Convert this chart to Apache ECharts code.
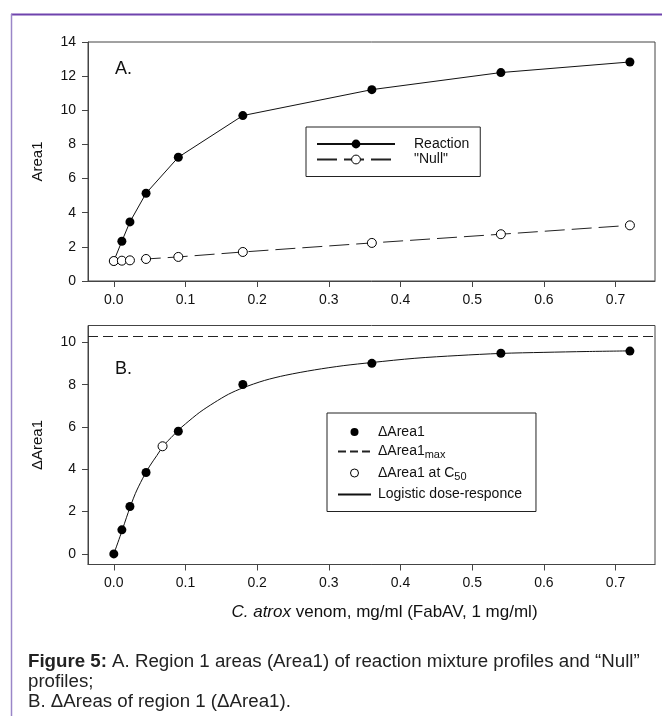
<!DOCTYPE html>
<html>
<head>
<meta charset="utf-8">
<script src="https://cdn.jsdelivr.net/npm/echarts@6/dist/echarts.min.js"></script>
<style>
html,body{margin:0;padding:0;background:#fff;}
#chart{width:662px;height:716px;}
</style>
</head>
<body>
<div id="chart"></div>
<script>
// ---- data ----
var conc = [0, 0.01125, 0.0225, 0.045, 0.09, 0.18, 0.36, 0.54, 0.72];
var reaction = [1.17, 2.33, 3.46, 5.14, 7.25, 9.69, 11.21, 12.21, 12.83];
var nullArea = [1.17, 1.19, 1.21, 1.29, 1.41, 1.70, 2.23, 2.74, 3.26];
var deltaArea = [0, 1.14, 2.24, 3.85, 5.80, 8.01, 9.01, 9.49, 9.59];
var c50X = [0.068];
var c50Y = [5.09];
var deltaMax = [10.28];
var fitX = [0, 0.01, 0.02, 0.03, 0.04, 0.05, 0.06, 0.07, 0.08, 0.09, 0.10, 0.12, 0.14, 0.16, 0.18, 0.21, 0.24, 0.28, 0.32, 0.36, 0.42, 0.48, 0.54, 0.60, 0.66, 0.72];
var fitY = [0, 0.95, 1.95, 2.85, 3.55, 4.15, 4.65, 5.15, 5.5, 5.85, 6.15, 6.7, 7.15, 7.55, 7.85, 8.2, 8.45, 8.7, 8.9, 9.05, 9.25, 9.38, 9.48, 9.53, 9.57, 9.6];
var xTicks = [0, 0.1, 0.2, 0.3, 0.4, 0.5, 0.6, 0.7];
var yTicksA = [0, 2, 4, 6, 8, 10, 12, 14];
var yTicksB = [0, 2, 4, 6, 8, 10];

function zip(a, b) { return a.map(function (v, i) { return [v, b[i]]; }); }

var FONT = 'Liberation Sans, Arial, sans-serif';
var AX = '#444';
var chart = echarts.init(document.getElementById('chart'), null, {renderer: 'canvas'});

function xAxisCfg(gi, name) {
  var c = {
    type: 'value', gridIndex: gi, min: -0.036, max: 0.755,
    axisLine: {show: true, onZero: false, lineStyle: {color: AX, width: 1}},
    axisTick: {show: true, length: 6, lineStyle: {color: AX}, customValues: xTicks},
    axisLabel: {show: true, customValues: xTicks, margin: 12, fontSize: 14, color: '#111', fontFamily: FONT,
      formatter: function (v) { return v.toFixed(1); }},
    splitLine: {show: false}
  };
  if (name) {
    c.name = name;
    c.nameLocation = 'middle';
    c.nameGap = 39;
    c.nameTextStyle = {fontSize: 17, color: '#111', fontFamily: FONT, padding: [0, 0, 0, 26],
      rich: {i: {fontStyle: 'italic', fontSize: 17, color: '#111', fontFamily: FONT}}};
  }
  return c;
}
function yAxisCfg(gi, min, max, ticks, name) {
  return {
    type: 'value', gridIndex: gi, min: min, max: max,
    axisLine: {show: true, onZero: false, lineStyle: {color: AX, width: 1}},
    axisTick: {show: true, length: 6, lineStyle: {color: AX}, customValues: ticks},
    axisLabel: {show: true, customValues: ticks, margin: 12, fontSize: 14, color: '#111', fontFamily: FONT},
    splitLine: {show: false},
    name: name, nameLocation: 'middle', nameGap: 43,
    nameTextStyle: {fontSize: 15, color: '#111', fontFamily: FONT}
  };
}

var hideSym = {color: 'rgba(0,0,0,0)', borderColor: 'rgba(0,0,0,0)', borderWidth: 0, opacity: 0};

var option = {
  animation: false,
  backgroundColor: '#fff',
  textStyle: {fontFamily: FONT},
  grid: [
    {left: 88, top: 42, width: 567, height: 239, show: true, borderColor: AX, borderWidth: 1, backgroundColor: 'transparent'},
    {left: 88, top: 325.5, width: 567, height: 239, show: true, borderColor: AX, borderWidth: 1, backgroundColor: 'transparent'}
  ],
  xAxis: [xAxisCfg(0), xAxisCfg(1, '{i|C. atrox} venom, mg/ml (FabAV, 1 mg/ml)')],
  yAxis: [yAxisCfg(0, 0, 14, yTicksA, 'Area1'), yAxisCfg(1, -0.5, 10.8, yTicksB, '\u0394Area1')],
  legend: [
    {
      orient: 'vertical', left: 306, top: 127, selectedMode: false,
      data: [
        {name: 'Reaction', itemStyle: {color: '#000', borderWidth: 0}},
        {name: '"Null"', itemStyle: {color: '#fff', borderColor: '#000', borderWidth: 1}}
      ],
      itemWidth: 78, itemHeight: 11, itemGap: 1.5,
      padding: [10, 11, 10, 10], borderColor: '#222', borderWidth: 1, backgroundColor: '#fff',
      textStyle: {fontSize: 14, color: '#111', fontFamily: FONT, padding: [0, 0, 0, 14]}
    },
    {
      orient: 'vertical', left: 327, top: 413, selectedMode: false,
      data: [
        {name: '\u0394Area1', itemStyle: {color: '#000', borderWidth: 0}},
        {name: '\u0394Area1max', itemStyle: hideSym},
        {name: '\u0394Area1 at C50', itemStyle: {color: '#fff', borderColor: '#000', borderWidth: 1}},
        {name: 'Logistic dose-responce', itemStyle: hideSym}
      ],
      itemWidth: 33, itemHeight: 8, itemGap: 5.5,
      padding: [12, 14, 10, 10], borderColor: '#222', borderWidth: 1, backgroundColor: '#fff',
      formatter: function (n) {
        if (n === '\u0394Area1max') return '\u0394Area1{s|max}';
        if (n === '\u0394Area1 at C50') return '\u0394Area1 at C{s|50}';
        return n;
      },
      textStyle: {fontSize: 14, color: '#111', fontFamily: FONT, padding: [0, 0, 0, 2],
        rich: {s: {fontSize: 11, color: '#111', fontFamily: FONT, padding: [7, 0, 0, 0]}}}
    }
  ],
  series: [
    {
      name: 'Reaction', type: 'line', xAxisIndex: 0, yAxisIndex: 0, data: zip(conc, reaction),
      symbol: 'circle', symbolSize: 9, showAllSymbol: true,
      itemStyle: {color: '#000'}, lineStyle: {color: '#111', width: 1}, z: 2
    },
    {
      name: '"Null"', type: 'line', xAxisIndex: 0, yAxisIndex: 0, data: zip(conc, nullArea),
      symbol: 'circle', symbolSize: 9, showAllSymbol: true,
      itemStyle: {color: '#fff', borderColor: '#000', borderWidth: 1},
      lineStyle: {color: '#222', width: 1, type: [20, 7]}, z: 3
    },
    {
      name: 'Logistic dose-responce', type: 'line', xAxisIndex: 1, yAxisIndex: 1, data: zip(fitX, fitY),
      symbol: 'none', smooth: 0.3, itemStyle: {color: '#111'}, lineStyle: {color: '#111', width: 1}, z: 2
    },
    {
      name: '\u0394Area1max', type: 'line', xAxisIndex: 1, yAxisIndex: 1, data: [],
      symbol: 'none', itemStyle: {color: '#222'}, lineStyle: {color: '#222', width: 1, type: [8, 4]},
      markLine: {silent: true, symbol: 'none', label: {show: false},
        lineStyle: {color: '#222', width: 1, type: [10, 5]},
        data: [{yAxis: deltaMax[0]}]}
    },
    {
      name: '\u0394Area1', type: 'scatter', xAxisIndex: 1, yAxisIndex: 1, data: zip(conc, deltaArea),
      symbol: 'circle', symbolSize: 9, itemStyle: {color: '#000', opacity: 1}, z: 4
    },
    {
      name: '\u0394Area1 at C50', type: 'scatter', xAxisIndex: 1, yAxisIndex: 1, data: zip(c50X, c50Y),
      symbol: 'circle', symbolSize: 9, itemStyle: {color: '#fff', borderColor: '#000', borderWidth: 1, opacity: 1}, z: 4
    }
  ],
  graphic: [
    {type: 'line', shape: {x1: 11, y1: 14.5, x2: 662, y2: 14.5}, style: {stroke: '#6f43ad', lineWidth: 2}},
    {type: 'line', shape: {x1: 11.5, y1: 14, x2: 11.5, y2: 716}, style: {stroke: '#9a86c8', lineWidth: 1.5}},
    {type: 'text', x: 115, y: 69, style: {text: 'A.', font: '18px ' + FONT, fill: '#111', verticalAlign: 'middle'}},
    {type: 'text', x: 115, y: 369.5, style: {text: 'B.', font: '18px ' + FONT, fill: '#111', verticalAlign: 'middle'}},
    {type: 'text', x: 28, y: 661.5, style: {
      text: '{b|Figure 5:} A. Region 1 areas (Area1) of reaction mixture profiles and \u201cNull\u201d',
      font: '18.7px ' + FONT, fill: '#222', verticalAlign: 'middle',
      rich: {b: {fontWeight: 'bold', fontSize: 18.7, fontFamily: FONT, fill: '#222'}}}},
    {type: 'text', x: 28, y: 682, style: {text: 'profiles;', font: '18.7px ' + FONT, fill: '#222', verticalAlign: 'middle'}},
    {type: 'text', x: 28, y: 702, style: {text: 'B. \u0394Areas of region 1 (\u0394Area1).', font: '18.7px ' + FONT, fill: '#222', verticalAlign: 'middle'}}
  ]
};
chart.setOption(option);
</script>
</body>
</html>
